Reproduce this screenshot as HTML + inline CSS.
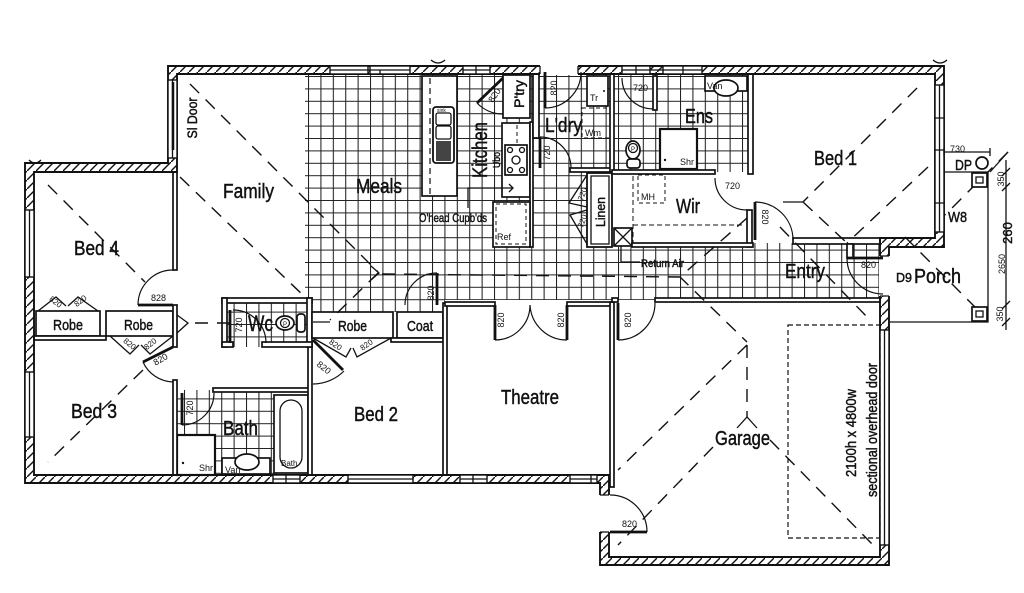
<!DOCTYPE html>
<html><head><meta charset="utf-8"><title>Floor plan</title>
<style>
html,body{margin:0;padding:0;background:#fff;width:1024px;height:593px;overflow:hidden}
svg{display:block}
text{font-family:"Liberation Sans",Arial,sans-serif;fill:#111}
.L{stroke:#111;stroke-width:0.45}
.w{fill:#fff;stroke:#111;stroke-width:1.7}
.t{fill:none;stroke:#111;stroke-width:1.3}
.d{fill:none;stroke:#111;stroke-width:1.4;stroke-dasharray:13 9}
.lf{fill:none;stroke:#111;stroke-width:2.8}
.arc{fill:none;stroke:#111;stroke-width:1.2}
.win{fill:#fff;stroke:#111;stroke-width:1.4}
.s{font-size:9px}
</style></head><body>
<svg width="1024" height="593" viewBox="0 0 1024 593" xmlns="http://www.w3.org/2000/svg">
<defs>
<pattern id="grid" x="308" y="76" width="12.4" height="12.4" patternUnits="userSpaceOnUse">
<path d="M0 0.5H12.4M0.5 0V12.4" stroke="#222" stroke-width="1.1" fill="none"/>
</pattern>
<pattern id="hatch" width="9" height="9" patternUnits="userSpaceOnUse">
<path d="M-1 10L10 -1" stroke="#111" stroke-width="1.4"/>
</pattern>
</defs>
<rect width="1024" height="593" fill="#fff"/>

<!-- tiled floors -->
<path fill="url(#grid)" d="M305 74H752V172H587V247H753V243H880V300H445V312H312V298H305Z"/>
<rect x="222" y="298" width="90" height="49" fill="url(#grid)"/>
<rect x="177" y="390" width="100" height="85" fill="url(#grid)"/>

<!-- kitchen furniture -->
<rect x="422" y="76" width="35" height="120" class="w"/>
<line x1="430" y1="78" x2="430" y2="194" stroke="#111" stroke-width="1.2" stroke-dasharray="6 4"/>
<rect x="433" y="107" width="21" height="56" rx="3" fill="#fff" stroke="#111" stroke-width="1.8"/>
<rect x="436" y="113" width="15" height="12" rx="2" class="t"/>
<rect x="436" y="126" width="15" height="13" rx="2" class="t"/>
<rect x="436" y="141" width="15" height="20" fill="#444"/>
<text x="437" y="112" font-size="5">sink</text>
<rect x="503" y="75" width="27" height="43" class="w"/>
<rect x="502" y="123" width="28" height="74" class="w"/>
<line x1="517" y1="125" x2="517" y2="145" stroke="#111" stroke-dasharray="4 3"/>
<rect x="505" y="145" width="22" height="30" class="w"/>
<circle cx="510" cy="150" r="2.5" class="t"/><circle cx="522" cy="150" r="2.5" class="t"/>
<circle cx="510" cy="170" r="2.5" class="t"/><circle cx="522" cy="170" r="2.5" class="t"/>
<circle cx="516" cy="160" r="4" class="t"/>
<rect x="530" y="122" width="3" height="125" class="w"/>
<path class="t" d="M468 208V188H513M509 184L513 188L509 192"/>
<rect x="493" y="202" width="37" height="45" class="w"/>
<rect x="496" y="204" width="30" height="40" fill="none" stroke="#111" stroke-dasharray="4 3"/>
<!-- laundry -->
<rect x="587" y="76" width="21" height="30" class="w"/>
<circle cx="604" cy="91" r="1" fill="#111"/>
<rect x="582" y="108" width="30" height="30" fill="none" stroke="#111" stroke-dasharray="4 3"/>
<!-- ensuite -->
<rect x="660" y="129" width="37" height="40" fill="#fff" stroke="#111" stroke-width="2.2"/>
<circle cx="665" cy="160" r="1.2" fill="#111"/>
<ellipse cx="633" cy="150" rx="7" ry="9" class="w"/>
<circle cx="633" cy="148" r="4.5" class="t"/>
<rect x="627" y="159" width="13" height="9" rx="3" class="w"/>
<rect x="705" y="76" width="42" height="15" class="w"/>
<ellipse cx="726" cy="88" rx="12" ry="8" class="w"/>
<!-- WIR -->
<rect x="638" y="175" width="27" height="28" fill="none" stroke="#111" stroke-dasharray="4 3"/>
<path d="M633 176V243M633 225H745" fill="none" stroke="#111" stroke-dasharray="5 3"/>
<rect x="614" y="228" width="18" height="18" class="w"/>
<path class="t" d="M614 228L632 246M632 228L614 246M621 246V262H640"/>
<rect x="587" y="173" width="25" height="74" fill="#fff" stroke="#111" stroke-width="1.8"/>
<rect x="591" y="176" width="18" height="68" class="t"/>

<!-- Wc furniture -->
<ellipse cx="285" cy="323" rx="9" ry="7" class="w"/>
<circle cx="285" cy="323" r="4.5" class="t"/>
<rect x="297" y="314" width="8" height="18" rx="3" class="w"/>
<!-- bath -->
<rect x="274" y="395" width="34" height="78" class="w"/>
<rect x="280" y="400" width="22" height="68" rx="11" class="t"/>
<rect x="177" y="435" width="38" height="40" fill="#fff" stroke="#111" stroke-width="2.2"/>
<circle cx="183" cy="463" r="1.2" fill="#111"/>
<rect x="222" y="458" width="48" height="16" class="w"/>
<ellipse cx="247" cy="462" rx="12" ry="8" class="w"/>

<!-- interior walls -->
<rect x="173" y="172" width="4" height="98" class="w"/>
<rect x="36" y="311" width="64" height="25" class="w"/>
<rect x="106" y="311" width="67" height="25" class="w"/>
<rect x="34" y="336" width="72" height="4" class="w"/>
<rect x="173" y="305" width="4" height="42" class="w"/>
<rect x="173" y="380" width="4" height="95" class="w"/>
<rect x="213" y="388" width="97" height="4" class="w"/>
<rect x="308" y="342" width="4" height="133" class="w"/>
<rect x="222" y="298" width="90" height="5" class="w"/>
<rect x="222" y="298" width="5" height="49" class="w"/>
<rect x="307" y="298" width="5" height="49" class="w"/>
<rect x="262" y="342" width="50" height="5" class="w"/>
<rect x="222" y="342" width="11" height="5" class="w"/>
<rect x="312" y="312" width="81" height="26" class="w"/>
<rect x="397" y="312" width="46" height="26" class="w"/>
<rect x="391" y="338" width="54" height="4" class="w"/>
<rect x="443" y="303" width="4" height="172" class="w"/>
<rect x="445" y="302" width="50" height="4" class="w"/>
<rect x="567" y="302" width="45" height="4" class="w"/>
<rect x="610" y="302" width="4" height="185" class="w"/>
<rect x="655" y="298" width="225" height="4" class="w"/>
<rect x="612" y="298" width="6" height="4" class="w"/>
<rect x="533" y="74" width="6" height="64" class="w"/>
<rect x="570" y="168" width="42" height="4" class="w"/>
<rect x="610" y="74" width="4" height="98" class="w"/>
<rect x="612" y="170" width="103" height="4" class="w"/>
<rect x="748" y="74" width="5" height="100" class="w"/>
<rect x="747" y="210" width="5" height="37" class="w"/>
<rect x="632" y="243" width="121" height="4" class="w"/>
<rect x="793" y="238" width="87" height="6" class="w"/>
<rect x="847" y="244" width="6" height="14" class="w"/>
<rect x="653" y="76" width="4" height="34" class="w"/>

<!-- exterior wall -->
<path d="M168 66H944V247H889V565H600V483H25V163H168Z M177 74V172H34V475H609V557H880V238H935V74Z" fill="url(#hatch)" fill-rule="evenodd" stroke="#111" stroke-width="1.9"/>

<!-- windows -->
<g class="win">
<rect x="330" y="66" width="38" height="8"/><rect x="370" y="66" width="40" height="8"/>
<rect x="463" y="66" width="27" height="8"/><rect x="622" y="66" width="28" height="8"/>
<rect x="663" y="66" width="39" height="8"/>
<rect x="168" y="80" width="9" height="78"/>
<rect x="25" y="210" width="9" height="67"/>
<rect x="25" y="372" width="9" height="65"/>
<rect x="273" y="475" width="27" height="8"/><rect x="348" y="475" width="65" height="8"/>
<rect x="460" y="475" width="27" height="8"/><rect x="570" y="475" width="27" height="8"/>
<rect x="935" y="85" width="9" height="147"/>
<rect x="880" y="330" width="9" height="215"/>
</g>
<path class="t" d="M330 70H410M463 70H490M622 70H702M172.5 80V158M29.5 210V277M29.5 372V437M273 479H300M348 479H413M460 479H487M570 479H597M939.5 85V232M935 118H944M935 150H944M935 203H944M884.5 330V545M476 66V74M636 66V74M683 66V74M380 74V70M286 475V483M591 475V483M473 475V483"/>
<path d="M173 82V150" stroke="#111" stroke-width="2.5"/>
<!-- openings -->
<rect x="879" y="256" width="11" height="40" fill="#fff"/>
<rect x="599" y="495" width="11" height="37" fill="#fff"/>
<rect x="540" y="65" width="38" height="10" fill="#fff"/>
<path class="t" d="M880 256H889M880 296H889M600 495H609M600 532H609M540 66V74M578 66V74"/>
<!-- small wall marks -->
<path class="t" d="M431 60Q438 66 445 60M933 60Q940 66 947 60M29 160Q35 166 41 160"/>

<!-- doors -->
<path class="lf" d="M138 305H173M437 305V273M495 305V340M567 305V340M618 303V340M610 532H647M883 258H847M755 240V202M545 72V108M540 168V137M230 310V343M182 393V425M143 362L173 347M313 340L343 370M503 78L477 103"/>
<path class="arc" d="M138 305A35 35 0 0 1 173 270M405 305A32 32 0 0 1 437 273M495 340A35 35 0 0 0 530 305M567 340A37 37 0 0 1 530 305M618 340A37 37 0 0 0 655 303M647 532A37 37 0 0 0 610 495M847 258A36 36 0 0 0 883 294M755 202A38 38 0 0 1 793 240M715 178A32 32 0 0 0 747 210M622 78A31 31 0 0 0 653 109M545 108A36 36 0 0 0 581 72M540 137A31 31 0 0 1 571 168M233 310A33 33 0 0 1 266 343M182 425A32 32 0 0 0 214 393M143 362A34 34 0 0 0 173 382M344 371A44 44 0 0 1 313 384M477 103A36 36 0 0 0 503 114"/>
<path class="t" stroke-width="1.8" d="M38 311L56 297L66 306M68 306L78 297L98 311M110 336L130 354L139 345M141 345L150 354L173 336M313 338L346 357L351 348M353 348L357 357L391 338M587 175L569 203L587 207M587 210L570 215L587 244"/>

<!-- dashed lines -->
<path class="d" d="M190 84L378 272M180 177L307 299M378 273L330 320M382 274L680 277M48 185L145 282M143 370L48 462M195 323H233M917 88L803 202M928 167L847 243M803 202L847 243M780 227L868 318M747 218L680 277L747 342M747 345V417M747 345L618 470M770 440L873 545M713 447L618 545M1008 152L945 215M905 237L975 307"/>
<path class="t" d="M177 315L188 323L177 333M371 266L379 273L371 280M783 202H803M737 428L747 417L757 428M313 322H330"/>

<!-- porch -->
<path class="t" d="M944 172H988V322H889M944 152H990M944 148V156M990 148V156M1006 160V330M1002 176L1010 168M1002 191L1010 183M1002 309L1010 301M1002 326L1010 318M990 172L1008 152"/>
<rect x="972" y="173" width="15" height="14" class="w"/><rect x="976" y="177" width="7" height="6" class="t"/>
<rect x="972" y="307" width="15" height="14" class="w"/><rect x="976" y="311" width="7" height="6" class="t"/>
<circle cx="982" cy="163" r="6" class="w"/>
<rect x="788" y="325" width="92" height="213" fill="none" stroke="#111" stroke-width="1.2" stroke-dasharray="5 3"/>

<!-- labels -->
<g class="L">
<text x="223" y="198" font-size="20" textLength="51" lengthAdjust="spacingAndGlyphs">Family</text>
<text x="356" y="193" font-size="20" textLength="46" lengthAdjust="spacingAndGlyphs">Meals</text>
<text x="74" y="255" font-size="20" textLength="45" lengthAdjust="spacingAndGlyphs">Bed 4</text>
<text x="53" y="330" font-size="15" textLength="30" lengthAdjust="spacingAndGlyphs">Robe</text>
<text x="124" y="330" font-size="15" textLength="29" lengthAdjust="spacingAndGlyphs">Robe</text>
<text x="248" y="331" font-size="22" textLength="25" lengthAdjust="spacingAndGlyphs">Wc</text>
<text x="338" y="331" font-size="15" textLength="29" lengthAdjust="spacingAndGlyphs">Robe</text>
<text x="407" y="331" font-size="15" textLength="26" lengthAdjust="spacingAndGlyphs">Coat</text>
<text x="71" y="418" font-size="20" textLength="46" lengthAdjust="spacingAndGlyphs">Bed 3</text>
<text x="223" y="435" font-size="20" textLength="35" lengthAdjust="spacingAndGlyphs">Bath</text>
<text x="354" y="421" font-size="20" textLength="44" lengthAdjust="spacingAndGlyphs">Bed 2</text>
<text x="501" y="404" font-size="20" textLength="58" lengthAdjust="spacingAndGlyphs">Theatre</text>
<text x="715" y="445" font-size="20" textLength="55" lengthAdjust="spacingAndGlyphs">Garage</text>
<text x="545" y="132" font-size="20" textLength="37" lengthAdjust="spacingAndGlyphs">L'dry</text>
<text x="685" y="123" font-size="20" textLength="28" lengthAdjust="spacingAndGlyphs">Ens</text>
<text x="814" y="165" font-size="20" textLength="43" lengthAdjust="spacingAndGlyphs">Bed 1</text>
<text x="676" y="213" font-size="20" textLength="24" lengthAdjust="spacingAndGlyphs">Wir</text>
<text x="785" y="278" font-size="20" textLength="40" lengthAdjust="spacingAndGlyphs">Entry</text>
<text x="914" y="283" font-size="20" textLength="47" lengthAdjust="spacingAndGlyphs">Porch</text>
<text x="896" y="282" font-size="13" textLength="16" lengthAdjust="spacingAndGlyphs">D9</text>
<text x="955" y="170" font-size="15" textLength="17" lengthAdjust="spacingAndGlyphs">DP</text>
<text x="948" y="222" font-size="15" textLength="19" lengthAdjust="spacingAndGlyphs">W8</text>
<text x="419" y="222" font-size="12" textLength="68" lengthAdjust="spacingAndGlyphs">O'head Cupb'ds</text>
<text x="641" y="267" font-size="11" textLength="43" lengthAdjust="spacingAndGlyphs">Return Air</text>

<text transform="translate(487,150) rotate(-90)" text-anchor="middle" font-size="21" textLength="56" lengthAdjust="spacingAndGlyphs">Kitchen</text>
<text transform="translate(500,160) rotate(-90)" text-anchor="middle" font-size="10" textLength="16" lengthAdjust="spacingAndGlyphs">Ubo</text>
<text transform="translate(524,94) rotate(-90)" text-anchor="middle" font-size="14" textLength="28" lengthAdjust="spacingAndGlyphs">P'try</text>
<text transform="translate(605,212) rotate(-90)" text-anchor="middle" font-size="13" textLength="30" lengthAdjust="spacingAndGlyphs">Linen</text>
<text transform="translate(197,118) rotate(-90)" text-anchor="middle" font-size="14" textLength="41" lengthAdjust="spacingAndGlyphs">Sl Door</text>
<text transform="translate(856,433) rotate(-90)" text-anchor="middle" font-size="14.5" textLength="88" lengthAdjust="spacingAndGlyphs">2100h x 4800w</text>
<text transform="translate(877,430) rotate(-90)" text-anchor="middle" font-size="14.5" textLength="134" lengthAdjust="spacingAndGlyphs">sectional overhead door</text>
<text transform="translate(1012,233) rotate(-90)" text-anchor="middle" font-size="13">260</text>
</g>
<g>
<text transform="translate(1004,179) rotate(-90)" text-anchor="middle" class="s">350</text>
<text transform="translate(1005,264) rotate(-90)" text-anchor="middle" class="s">2650</text>
<text transform="translate(1003,314) rotate(-90)" text-anchor="middle" class="s">350</text>

<text x="151" y="301" class="s">828</text>
<text x="861" y="268" class="s">820</text>
<text x="622" y="527" class="s">820</text>
<text x="633" y="91" class="s">720</text>
<text x="725" y="189" class="s">720</text>
<text x="641" y="200" class="s">MH</text>
<text x="680" y="165" class="s">Shr</text>
<text x="707" y="89" class="s">Van</text>
<text x="590" y="101" class="s">Tr</text>
<text x="585" y="136" class="s">Wm</text>
<text x="497" y="240" class="s">Ref</text>
<text x="199" y="471" class="s">Shr</text>
<text x="225" y="473" class="s">Van</text>
<text x="281" y="466" font-size="8">Bath</text>
<text x="950" y="152" class="s">730</text>

<text transform="translate(504,320) rotate(-90)" text-anchor="middle" class="s">820</text>
<text transform="translate(564,320) rotate(-90)" text-anchor="middle" class="s">820</text>
<text transform="translate(631,320) rotate(-90)" text-anchor="middle" class="s">820</text>
<text transform="translate(434,293) rotate(-90)" text-anchor="middle" class="s">820</text>
<text transform="translate(557,88) rotate(-90)" text-anchor="middle" class="s">820</text>
<text transform="translate(550,153) rotate(-90)" text-anchor="middle" class="s">720</text>
<text transform="translate(242,325) rotate(-90)" text-anchor="middle" class="s">720</text>
<text transform="translate(193,408) rotate(-90)" text-anchor="middle" class="s">720</text>
<text transform="translate(762,217) rotate(90)" text-anchor="middle" class="s">820</text>
<text transform="translate(497,97) rotate(-55)" text-anchor="middle" class="s">820</text>
<text transform="translate(585,195) rotate(-70)" text-anchor="middle" font-size="8">720</text>
<text transform="translate(585,222) rotate(-70)" text-anchor="middle" font-size="8">720</text>
<text transform="translate(54,304) rotate(38)" text-anchor="middle" font-size="8">820</text>
<text transform="translate(82,303) rotate(-38)" text-anchor="middle" font-size="8">820</text>
<text transform="translate(128,346) rotate(38)" text-anchor="middle" font-size="8">820</text>
<text transform="translate(152,346) rotate(-38)" text-anchor="middle" font-size="8">820</text>
<text transform="translate(334,347) rotate(35)" text-anchor="middle" font-size="8">820</text>
<text transform="translate(368,347) rotate(-35)" text-anchor="middle" font-size="8">820</text>
<text transform="translate(162,362) rotate(-30)" text-anchor="middle" class="s">820</text>
<text transform="translate(322,370) rotate(38)" text-anchor="middle" class="s">820</text>
<text x="283" y="326" font-size="6">P</text>
<text x="631" y="151" font-size="6">P</text>
</g>
</svg>
</body></html>
